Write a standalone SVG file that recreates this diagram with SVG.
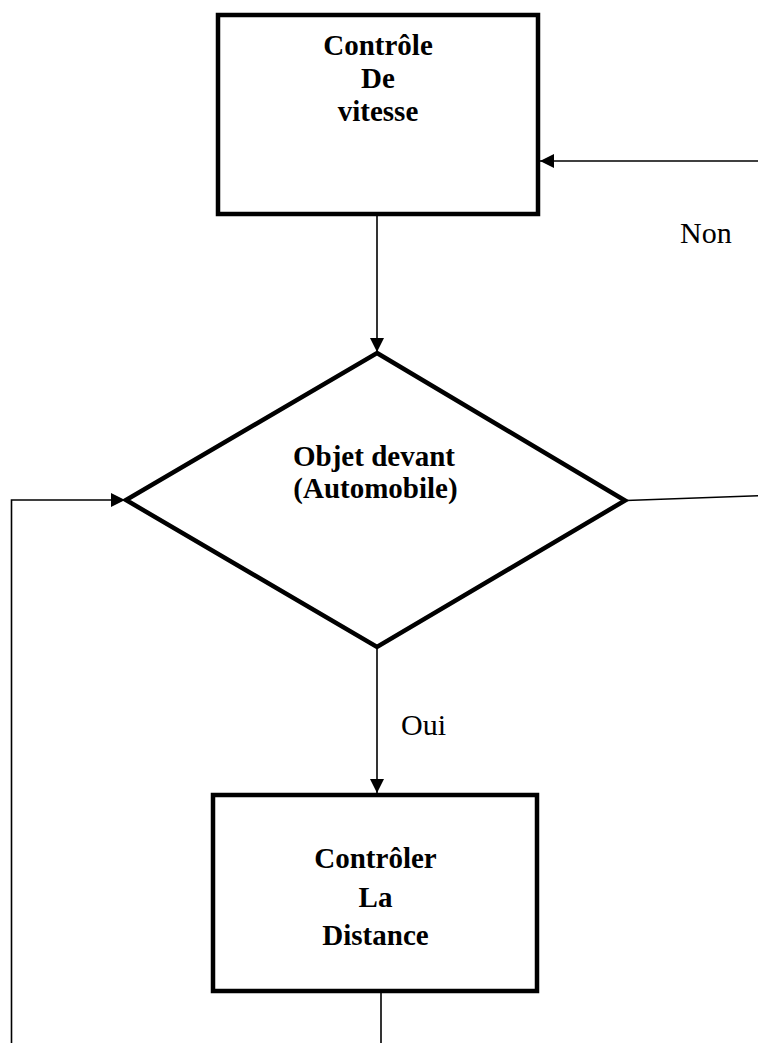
<svg xmlns="http://www.w3.org/2000/svg" width="758" height="1043" viewBox="0 0 758 1043">
<style>
.box{fill:#fff;stroke:#000;stroke-width:4.5;stroke-linejoin:miter}
.conn{fill:none;stroke:#000;stroke-width:1.6}
.node{font-family:"Liberation Serif","Times New Roman",serif;font-weight:bold;font-size:29px;text-anchor:middle;fill:#000}
.lbl{font-family:"Liberation Serif","Times New Roman",serif;font-size:30px;fill:#000}
</style>
<defs>
<marker id="arr" markerUnits="userSpaceOnUse" markerWidth="16" markerHeight="16" refX="14" refY="7" orient="auto">
<path d="M0,0 L14,7 L0,14 Z" fill="#000"/>
</marker>
</defs>
<g id="connectors">
<line class="conn" x1="377" y1="216" x2="377" y2="352" marker-end="url(#arr)"/>
<line class="conn" x1="758" y1="161" x2="540" y2="161" marker-end="url(#arr)"/>
<line class="conn" x1="626" y1="500.5" x2="758" y2="495.7"/>
<line class="conn" x1="377" y1="649" x2="377" y2="793" marker-end="url(#arr)"/>
<polyline class="conn" points="11.5,1043 11.5,500 125,500" marker-end="url(#arr)"/>
<line class="conn" x1="381" y1="993" x2="381" y2="1043"/>
</g>
<g id="node-vitesse">
<rect class="box" x="218" y="15" width="320" height="199"/>
<text class="node" x="378" y="55">Contrôle</text>
<text class="node" x="378" y="88">De</text>
<text class="node" x="378" y="121">vitesse</text>
</g>
<g id="node-objet">
<polygon class="box" points="377,353 625,500.5 377,647 126,500"/>
<text class="node" x="374" y="466">Objet devant </text>
<text class="node" x="375.5" y="498">(Automobile)</text>
</g>
<g id="node-distance">
<rect class="box" x="213" y="795" width="324" height="196"/>
<text class="node" x="375.5" y="868">Contrôler</text>
<text class="node" x="375.5" y="907">La</text>
<text class="node" x="375.5" y="945">Distance</text>
</g>
<g id="labels">
<text class="lbl" x="680" y="243">Non</text>
<text class="lbl" x="401" y="735">Oui</text>
</g>
</svg>
